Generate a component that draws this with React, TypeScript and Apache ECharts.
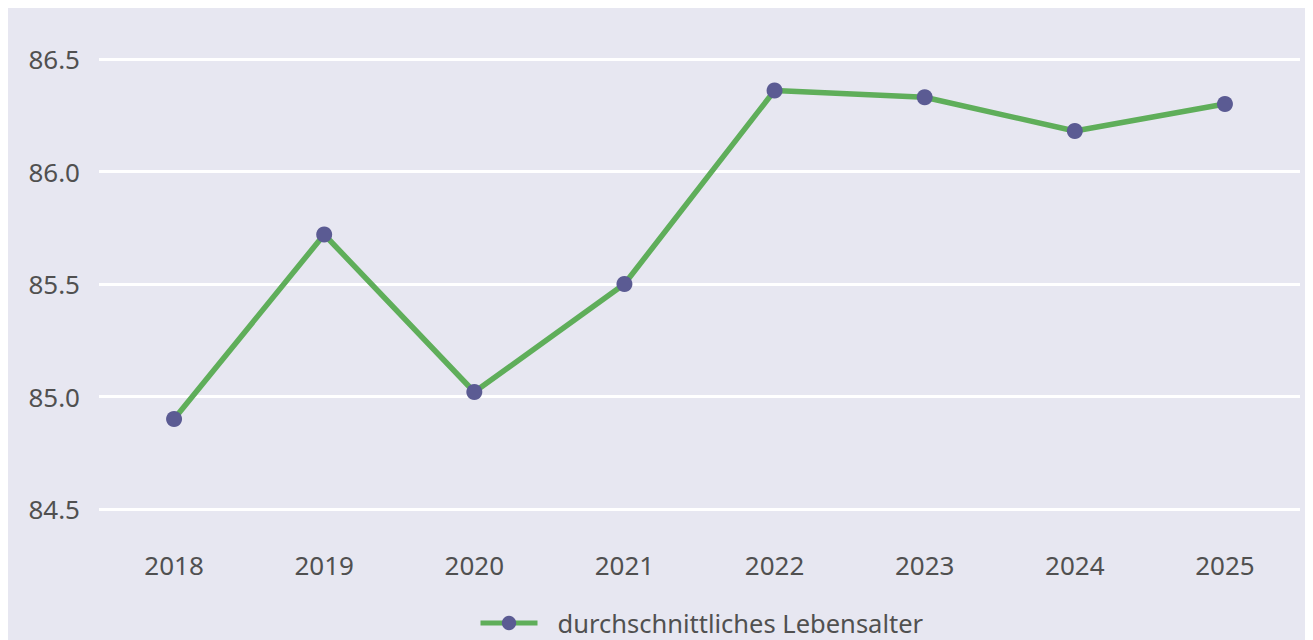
import React, { useEffect, useRef } from "react";
import * as echarts from "echarts";

const years = ["2018", "2019", "2020", "2021", "2022", "2023", "2024", "2025"];
const avgAge = [84.9, 85.72, 85.02, 85.5, 86.36, 86.33, 86.18, 86.3];
const seriesName = "durchschnittliches Lebensalter";

const FONT = "'Noto Sans', 'Open Sans', sans-serif";
const TXT = "#505050";

export default function App() {
  const ref = useRef<HTMLDivElement>(null);
  useEffect(() => {
    if (!ref.current) return;
    const chart = echarts.init(ref.current, null, { renderer: "svg" });
    chart.setOption({
      animation: false,
      backgroundColor: "#e7e7f1",
      textStyle: { fontFamily: FONT },
      grid: { left: 91, right: 13, top: 51, bottom: 131, containLabel: false },
      legend: {
        left: 470,
        top: 602,
        padding: 0,
        itemWidth: 57,
        itemHeight: 18,
        itemGap: 20,
        lineStyle: { width: 5 },
        textStyle: { fontSize: 25.5, color: TXT, fontFamily: FONT, padding: [0, 0, 0, 15] },
        data: [seriesName],
      },
      xAxis: {
        type: "category",
        data: years,
        boundaryGap: true,
        axisLine: { show: false },
        axisTick: { show: false },
        axisLabel: { fontSize: 26, color: TXT, margin: 43, fontFamily: FONT },
      },
      yAxis: {
        type: "value",
        min: 84.5,
        max: 86.5,
        interval: 0.5,
        axisLine: { show: false },
        axisTick: { show: false },
        axisLabel: {
          fontSize: 26,
          color: TXT,
          margin: 19,
          fontFamily: FONT,
          formatter: (v: number) => v.toFixed(1),
        },
        splitLine: { lineStyle: { color: "#ffffff", width: 3 } },
      },
      series: [
        {
          name: seriesName,
          type: "line",
          data: avgAge,
          symbol: "circle",
          symbolSize: 16,
          lineStyle: { color: "#5fae5a", width: 5.5 },
          itemStyle: { color: "#5b5b93" },
          z: 3,
        },
      ],
    });
    return () => chart.dispose();
  }, []);
  return <div ref={ref} style={{ width: 1305, height: 632 }} />;
}
